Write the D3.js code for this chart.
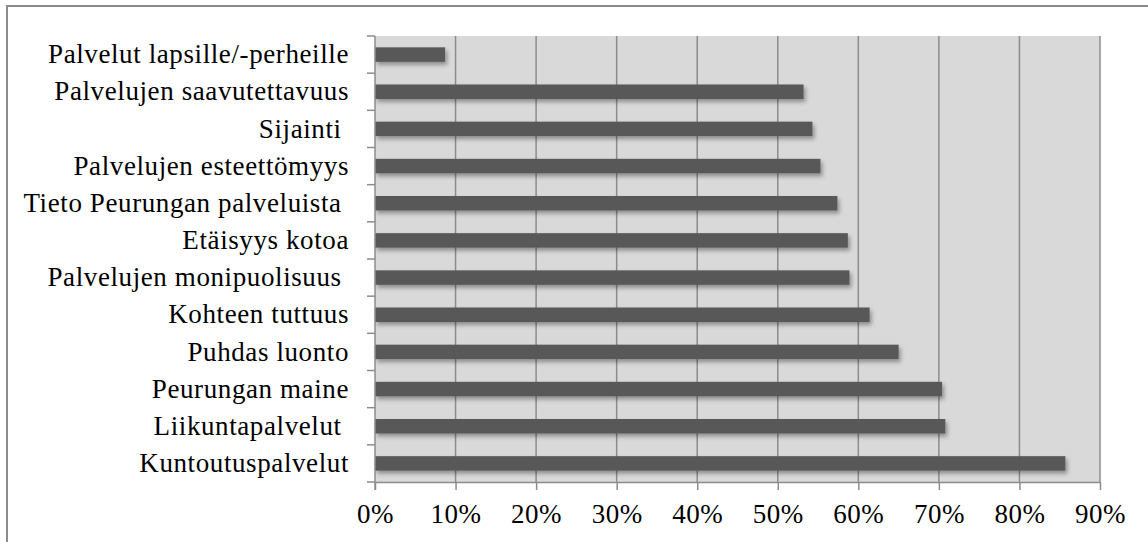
<!DOCTYPE html>
<html>
<head>
<meta charset="utf-8">
<script src="https://cdn.jsdelivr.net/npm/d3@7"></script>
<style>
  html, body { margin: 0; padding: 0; background: #fff; }
  svg { display: block; }
  text { font-family: "Liberation Serif", "Times New Roman", serif; fill: #000; }
</style>
</head>
<body>
<svg id="chart" width="1148" height="542"></svg>
<script>
const categories = [
  "Palvelut lapsille/-perheille",
  "Palvelujen saavutettavuus",
  "Sijainti ",
  "Palvelujen esteettömyys",
  "Tieto Peurungan palveluista ",
  "Etäisyys kotoa",
  "Palvelujen monipuolisuus ",
  "Kohteen tuttuus",
  "Puhdas luonto",
  "Peurungan maine",
  "Liikuntapalvelut ",
  "Kuntoutuspalvelut"
];
const values = [8.7, 53.2, 54.3, 55.3, 57.4, 58.7, 58.9, 61.4, 65.0, 70.4, 70.8, 85.7];
const tickValues = [0, 10, 20, 30, 40, 50, 60, 70, 80, 90];

const svg = d3.select("#chart");
const W = 1148, H = 542;
const plot = { left: 375, right: 1100, top: 36, bottom: 482 };

// outer frame (cropped at right/bottom)
svg.append("rect")
  .attr("x", 7).attr("y", 6)
  .attr("width", W + 20).attr("height", H + 20)
  .attr("fill", "#fff").attr("stroke", "#8c8c8c").attr("stroke-width", 2);

const defs = svg.append("defs");
const f = defs.append("filter").attr("id", "shadow")
  .attr("x", "-5%").attr("y", "-50%").attr("width", "115%").attr("height", "220%");
f.append("feDropShadow").attr("dx", 2).attr("dy", 3).attr("stdDeviation", 2)
  .attr("flood-color", "#000").attr("flood-opacity", 0.35);

const x = d3.scaleLinear().domain([0, 90]).range([plot.left, plot.right]);
const y = d3.scaleBand().domain(categories).range([plot.top, plot.bottom])
  .paddingInner(0.61).paddingOuter(0.305);

// background
svg.append("rect")
  .attr("x", plot.left).attr("y", plot.top)
  .attr("width", plot.right - plot.left).attr("height", plot.bottom - plot.top)
  .attr("fill", "#d9d9d9");

// gridlines
svg.append("g").selectAll("line").data(tickValues.filter(d => d > 0)).join("line")
  .attr("x1", d => x(d)).attr("x2", d => x(d))
  .attr("y1", plot.top).attr("y2", plot.bottom)
  .attr("stroke", "#8c8c8c").attr("stroke-width", 1.5);

// bars
svg.append("g").selectAll("rect").data(categories).join("rect")
  .attr("x", x(0))
  .attr("y", d => y(d))
  .attr("width", (d, i) => x(values[i]) - x(0))
  .attr("height", y.bandwidth())
  .attr("fill", "#595959")
  .attr("filter", "url(#shadow)");

// x axis
const xAxis = d3.axisBottom(x).tickValues(tickValues)
  .tickFormat(d => d + "%").tickSize(8).tickPadding(14).tickSizeOuter(0);
const gx = svg.append("g").attr("transform", `translate(0,${plot.bottom})`).call(xAxis);
gx.select(".domain").attr("stroke", "#8c8c8c").attr("stroke-width", 1.5);
gx.selectAll(".tick line").attr("stroke", "#8c8c8c").attr("stroke-width", 1.5);
gx.selectAll(".tick text")
  .attr("font-family", "Liberation Serif, serif")
  .attr("font-size", 27).attr("letter-spacing", 0.5).attr("fill", "#000");

// y axis line + ticks at band boundaries
const yBound = d3.scaleLinear().domain([0, categories.length]).range([plot.top, plot.bottom]);
const gy = svg.append("g");
gy.append("line")
  .attr("x1", plot.left).attr("x2", plot.left)
  .attr("y1", plot.top).attr("y2", plot.bottom + 8)
  .attr("stroke", "#8c8c8c").attr("stroke-width", 1.5);
gy.selectAll("line.t").data(d3.range(categories.length + 1)).join("line")
  .attr("class", "t")
  .attr("x1", plot.left - 8).attr("x2", plot.left)
  .attr("y1", d => yBound(d)).attr("y2", d => yBound(d))
  .attr("stroke", "#8c8c8c").attr("stroke-width", 1.5);

// category labels
svg.append("g").selectAll("text").data(categories).join("text")
  .attr("x", 349)
  .attr("y", d => y(d) + y.bandwidth() / 2 + 8.6)
  .attr("text-anchor", "end")
  .attr("font-size", 27)
  .attr("letter-spacing", 0.6)
  .style("white-space", "pre")
  .text(d => d);
</script>
</body>
</html>
